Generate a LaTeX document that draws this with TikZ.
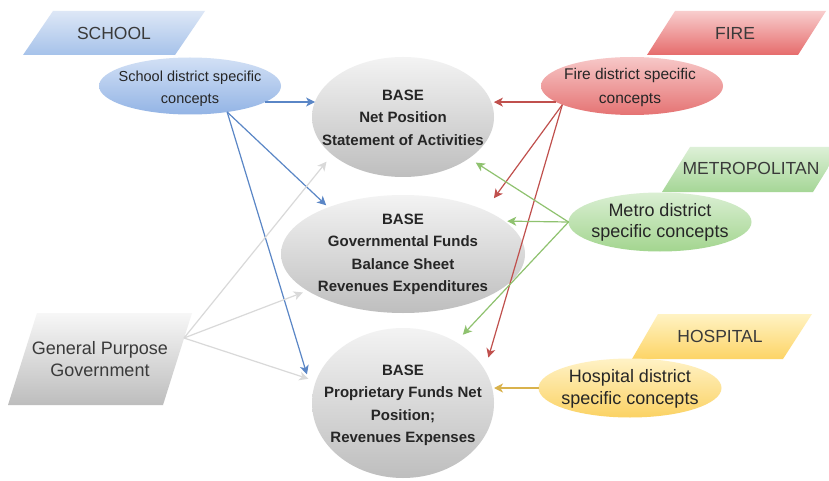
\documentclass[tikz,border=0pt]{standalone}
\usepackage{fontspec}
\setmainfont{Liberation Sans}
\usetikzlibrary{shapes.geometric,arrows.meta}
\definecolor{schT}{HTML}{DDE7F6}\definecolor{schB}{HTML}{A6C2EA}
\definecolor{schET}{HTML}{D2E0F5}\definecolor{schEB}{HTML}{93B4E5}
\definecolor{fireT}{HTML}{F8CDCD}\definecolor{fireB}{HTML}{E66C6C}
\definecolor{fireET}{HTML}{F7C8C8}\definecolor{fireEB}{HTML}{E57373}
\definecolor{metT}{HTML}{DDF0D7}\definecolor{metB}{HTML}{A5D696}
\definecolor{metET}{HTML}{DAEFD3}\definecolor{metEB}{HTML}{A3D58F}
\definecolor{hosT}{HTML}{FFF3C4}\definecolor{hosB}{HTML}{FDD466}
\definecolor{hosET}{HTML}{FFF2C6}\definecolor{hosEB}{HTML}{FBD263}
\definecolor{gpgT}{HTML}{F7F7F7}\definecolor{gpgB}{HTML}{BDBDBD}
\definecolor{baseT}{HTML}{F3F3F3}\definecolor{baseB}{HTML}{BEBEBE}
\definecolor{cBlue}{HTML}{5A86C6}
\definecolor{cRed}{HTML}{C0504D}
\definecolor{cGreen}{HTML}{8FC26F}
\definecolor{cGray}{HTML}{D9D9D9}
\definecolor{cGold}{HTML}{D9B24C}
\definecolor{txt}{HTML}{262626}
\definecolor{hdr}{HTML}{3A3A3A}
\begin{document}
\begin{tikzpicture}[x=1pt,y=-1pt,
  ell/.style={ellipse, inner sep=0pt, outer sep=0pt, draw=none},
  basetxt/.style={align=center, text=txt, inner sep=0pt, font=\fontsize{15}{22.5}\selectfont\bfseries},
  etxt/.style={align=center, text=txt, inner sep=0pt},
  hdrtxt/.style={text=hdr, inner sep=0pt, font=\fontsize{17.5}{21}\selectfont},
  conn/.style={line width=1.2pt, -{Stealth[length=9pt,width=9pt,inset=2.5pt]}}]
\path[use as bounding box, fill=white] (0,0) rectangle (829,481);

% header parallelograms
\shade[top color=schT, bottom color=schB] (53,11) -- (205,11) -- (175,55) -- (23,55) -- cycle;
\node[hdrtxt] (schoolhdr) at (114,33) {SCHOOL};
\shade[top color=fireT, bottom color=fireB] (675,11) -- (826,11) -- (798,55) -- (647,55) -- cycle;
\node[hdrtxt] (firehdr) at (735,33) {FIRE};
\shade[top color=metT, bottom color=metB] (690,147) -- (841,147) -- (813,192) -- (662,192) -- cycle;
\node[hdrtxt] (metrohdr) at (751,168) {METROPOLITAN};
\shade[top color=hosT, bottom color=hosB] (658,314) -- (812,314) -- (783,359) -- (632,359) -- cycle;
\node[hdrtxt] (hosphdr) at (720,336) {HOSPITAL};
\shade[top color=gpgT, bottom color=gpgB] (37,313) -- (192,313) -- (163,405) -- (8,405) -- cycle;
\node[etxt, text=hdr, font=\fontsize{18}{22}\selectfont] (gpg) at (100,359) {General Purpose\\Government};
\coordinate (gpgout) at (184,338);

% specific concept ellipses
\node[ell, top color=schET, bottom color=schEB, minimum width=182pt, minimum height=57pt] (school) at (190,86) {};
\node[etxt, font=\fontsize{14.5}{22}\selectfont] (schooltxt) at (190,88.5) {School district specific\\concepts};
\node[ell, top color=fireET, bottom color=fireEB, minimum width=182pt, minimum height=58pt] (fire) at (632,86) {};
\node[etxt, font=\fontsize{15.5}{24}\selectfont] (firetxt) at (630,87.5) {Fire district specific\\concepts};
\node[ell, top color=metET, bottom color=metEB, minimum width=183pt, minimum height=59pt] (metro) at (660,222) {};
\node[etxt, font=\fontsize{18}{21.5}\selectfont] (metrotxt) at (660,222.5) {Metro district\\specific concepts};
\node[ell, top color=hosET, bottom color=hosEB, minimum width=183pt, minimum height=59pt] (hosp) at (630,388) {};
\node[etxt, font=\fontsize{18}{21.5}\selectfont] (hosptxt) at (630,389) {Hospital district\\specific concepts};

% base ellipses
\node[ell, top color=baseT, bottom color=baseB, minimum width=182pt, minimum height=120pt] (base1) at (403,117) {};
\node[basetxt] (base1txt) at (403,117.5) {BASE\\Net Position\\Statement of Activities};
\node[ell, top color=baseT, bottom color=baseB, minimum width=244pt, minimum height=118pt] (base2) at (403,254) {};
\node[basetxt] (base2txt) at (403,254.5) {BASE\\Governmental Funds\\Balance Sheet\\Revenues Expenditures};
\node[ell, top color=baseT, bottom color=baseB, minimum width=182pt, minimum height=150pt] (base3) at (403,403) {};
\node[basetxt] (base3txt) at (403,405.5) {BASE\\Proprietary Funds Net\\Position;\\Revenues Expenses};

% connectors
\draw[conn, cBlue] (school.348) -- (school.348 -| base1.170);
\draw[conn, cBlue, shorten >=3pt] (school.325) -- (base2.148);
\draw[conn, cBlue, shorten >=20pt] (school.325) -- (base3.174);

\draw[conn, cGray, shorten >=9pt] (gpgout) -- (base1.208);
\draw[conn, cGray, shorten >=5pt] (gpgout) -- (base2.201);
\draw[conn, cGray, shorten >=8pt] (gpgout) -- (base3.166);

\draw[conn, cRed, shorten >=3pt] (fire.192) -- (fire.192 -| base1.10);
\draw[conn, cRed, shorten >=15pt] (fire.195) -- (base2.28);
\draw[conn, cRed, shorten >=13pt] (fire.195) -- (base3.22);

\draw[conn, cGreen, shorten >=8pt] (metro.west) -- (base1.328);
\draw[conn, cGreen, shorten >=3pt] (metro.west) -- (base2.18);
\draw[conn, cGreen, shorten >=10pt] (metro.west) -- (base3.49);

\draw[conn, cGold] (hosp.west) -- (hosp.west -| base3.east);
\end{tikzpicture}
\end{document}
